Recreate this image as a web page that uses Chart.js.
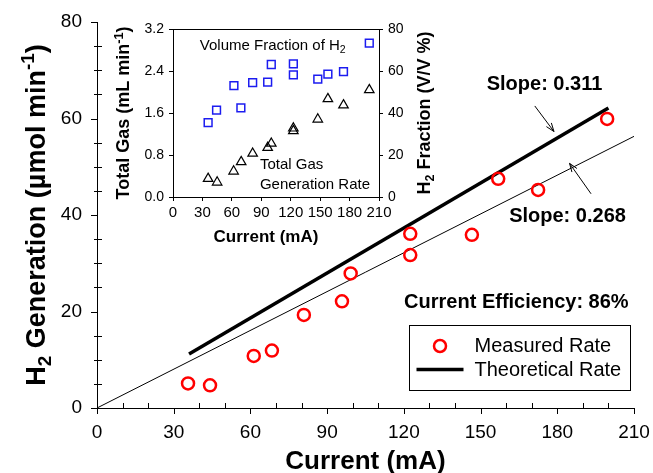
<!DOCTYPE html>
<html>
<head>
<meta charset="utf-8">
<script src="https://cdn.jsdelivr.net/npm/chart.js@4.4.0/dist/chart.umd.min.js"></script>
<style>
body { margin: 0; background: #fff; }
#wrap { position: relative; width: 653px; height: 473px; }
#main { position: absolute; left: 0; top: 0; }
#inset { position: absolute; left: 100px; top: 10px; }
</style>
</head>
<body>
<div id="wrap">
  <canvas id="main" width="653" height="473"></canvas>
  <canvas id="inset" width="340" height="245"></canvas>
</div>
<script>
var FAMILY = "'Liberation Sans', Arial, sans-serif";

// main plot: H2 generation vs current
var measuredCurrent = [35.6, 44.2, 61.3, 68.4, 80.9, 95.8, 99.2, 122.5, 122.5, 146.6, 156.9, 172.5, 199.5];
var measuredRate    = [5.1, 4.7, 10.8, 11.9, 19.3, 22.1, 27.9, 31.7, 36.1, 35.9, 47.5, 45.2, 59.9];
var theoryCurrent = [36, 200];
var theoryRate    = [11.2, 62.2];
var fitCurrent = [0, 210];
var fitRate    = [0, 56.3];
var mainXTicks = [0, 30, 60, 90, 120, 150, 180, 210];
var mainYTicks = [0, 20, 40, 60, 80];

// inset: H2 volume fraction and total gas rate
var fracCurrent = [35.8, 44.4, 62.1, 69.2, 81.2, 96.5, 100.2, 122.7, 122.7, 147.6, 157.9, 173.8, 200.1];
var h2Fraction  = [35.4, 41.4, 53.0, 42.4, 54.5, 54.7, 63.1, 63.4, 58.2, 56.1, 58.5, 59.7, 73.3];
var gasCurrent  = [35.8, 45.0, 61.8, 69.5, 81.2, 96.5, 100.2, 122.7, 122.7, 147.6, 157.9, 173.8, 200.1];
var totalGas    = [0.35, 0.28, 0.49, 0.67, 0.83, 0.94, 1.02, 1.31, 1.26, 1.48, 1.87, 1.75, 2.04];
var insetXTicks = [0, 30, 60, 90, 120, 150, 180, 210];
var insetYTicks = [0, 0.8, 1.6, 2.4, 3.2];
var insetY2Ticks = [0, 20, 40, 60, 80];

function xy(xs, ys) {
  return xs.map(function (x, i) { return { x: x, y: ys[i] }; });
}
function setTicks(list) {
  return function (scale) { scale.ticks = list.map(function (v) { return { value: v }; }); };
}
// fix a scale's thickness and drop the label overflow padding, so layout padding rules
function fitTo(size) {
  return function (s) {
    if (s.isHorizontal()) s.height = size; else s.width = size;
    s.paddingLeft = s.paddingRight = s.paddingTop = s.paddingBottom = 0;
  };
}

// text with sub/superscripts, centred (or left aligned) on x,y
function richText(ctx, parts, x, y, size, weight, rotate, align) {
  ctx.save();
  ctx.translate(x, y);
  if (rotate) ctx.rotate(-Math.PI / 2);
  var total = 0;
  parts.forEach(function (p) {
    ctx.font = weight + ' ' + (p.s ? size * 0.7 : size) + 'px ' + FAMILY;
    p.w = ctx.measureText(p.t).width;
    total += p.w;
  });
  var cx = align === 'left' ? 0 : -total / 2;
  ctx.textAlign = 'left';
  ctx.textBaseline = 'alphabetic';
  ctx.fillStyle = '#000';
  parts.forEach(function (p) {
    ctx.font = weight + ' ' + (p.s ? size * 0.7 : size) + 'px ' + FAMILY;
    var dy = p.s === 'sub' ? size * 0.22 : (p.s === 'sup' ? -size * 0.38 : 0);
    ctx.fillText(p.t, cx, size * 0.36 + dy);
    cx += p.w;
  });
  ctx.restore();
}

function arrow(ctx, x1, y1, x2, y2) {
  var ang = Math.atan2(y2 - y1, x2 - x1), L = 9;
  ctx.beginPath();
  ctx.moveTo(x1, y1); ctx.lineTo(x2, y2);
  ctx.moveTo(x2 - L * Math.cos(ang - 0.35), y2 - L * Math.sin(ang - 0.35));
  ctx.lineTo(x2, y2);
  ctx.lineTo(x2 - L * Math.cos(ang + 0.35), y2 - L * Math.sin(ang + 0.35));
  ctx.stroke();
}

var mainDecor = {
  id: 'mainDecor',
  afterDraw: function (chart) {
    var ctx = chart.ctx, xs = chart.scales.x, ys = chart.scales.y, a = chart.chartArea;
    var X = function (v) { return xs.getPixelForValue(v); };
    var Y = function (v) { return ys.getPixelForValue(v); };
    ctx.save();
    ctx.strokeStyle = '#000';
    ctx.lineWidth = 1;
    // tick marks: majors outward, minors inward
    ctx.beginPath();
    for (var v = 0; v <= 210; v += 10) {
      var px = Math.round(X(v)) + 0.5;
      if (v % 30 === 0) { ctx.moveTo(px, a.bottom); ctx.lineTo(px, a.bottom + 6); }
      else { ctx.moveTo(px, a.bottom); ctx.lineTo(px, a.bottom - 5); }
    }
    for (var w = 0; w <= 80; w += 5) {
      var py = Math.round(Y(w)) + 0.5;
      if (w % 20 === 0) { ctx.moveTo(a.left, py); ctx.lineTo(a.left - 6, py); }
      else { ctx.moveTo(a.left - 3, py); ctx.lineTo(a.left + 5, py); }
    }
    ctx.stroke();

    // axis titles
    richText(ctx, [{ t: 'Current (mA)' }], (a.left + a.right) / 2, 460, 26, 'bold', false);
    richText(ctx, [{ t: 'H' }, { t: '2', s: 'sub' }, { t: ' Generation (\u00b5mol min' }, { t: '-1', s: 'sup' }, { t: ')' }],
      35, (a.top + a.bottom) / 2, 27, 'bold', true);

    // annotations
    richText(ctx, [{ t: 'Slope: 0.311' }], X(175.0), Y(67.4), 20, 'bold', false);
    richText(ctx, [{ t: 'Slope: 0.268' }], X(184.0), Y(40.1), 20, 'bold', false);
    richText(ctx, [{ t: 'Current Efficiency: 86%' }], X(164.0), Y(22.3), 20, 'bold', false);
    arrow(ctx, X(171.2), Y(62.6), X(178.7), Y(57.3));
    arrow(ctx, X(193.2), Y(44.4), X(184.8), Y(50.7));

    // legend box
    var bx = Math.round(X(122.2)) + 0.5, by = Math.round(Y(17.3)) + 0.5;
    var bw = Math.round(X(208.7) - X(122.2)), bh = Math.round(Y(3.9) - Y(17.3));
    ctx.strokeRect(bx, by, bw, bh);
    var ds0 = chart.data.datasets[0], ds1 = chart.data.datasets[1];
    ctx.beginPath();
    ctx.lineWidth = ds0.borderWidth;
    ctx.strokeStyle = ds0.borderColor;
    ctx.arc(bx + 30.5, by + 20.5, ds0.pointRadius, 0, Math.PI * 2);
    ctx.stroke();
    ctx.beginPath();
    ctx.lineWidth = ds1.borderWidth;
    ctx.strokeStyle = ds1.borderColor;
    ctx.moveTo(bx + 7, by + 44); ctx.lineTo(bx + 54, by + 44);
    ctx.stroke();
    ctx.fillStyle = '#000';
    ctx.font = '20px ' + FAMILY;
    ctx.textAlign = 'left';
    ctx.textBaseline = 'middle';
    ctx.fillText(ds0.label, bx + 65, by + 21);
    ctx.fillText(ds1.label, bx + 65, by + 45);
    ctx.restore();
  }
};

new Chart(document.getElementById('main'), {
  type: 'scatter',
  data: {
    datasets: [
      { label: 'Measured Rate', data: xy(measuredCurrent, measuredRate), pointStyle: 'circle',
        pointRadius: 6, pointHoverRadius: 6, borderColor: '#ff0000', borderWidth: 2.5,
        backgroundColor: 'rgba(0,0,0,0)' },
      { label: 'Theoretical Rate', type: 'line', data: xy(theoryCurrent, theoryRate), showLine: true,
        borderColor: '#000', borderWidth: 3.5, pointRadius: 0, fill: false },
      { label: 'Fit', type: 'line', data: xy(fitCurrent, fitRate), showLine: true,
        borderColor: '#000', borderWidth: 1, pointRadius: 0, fill: false }
    ]
  },
  options: {
    responsive: false,
    animation: false,
    layout: { padding: { top: 22, right: 19 } },
    plugins: { legend: { display: false }, tooltip: { enabled: false } },
    scales: {
      x: {
        type: 'linear', min: 0, max: 210,
        afterBuildTicks: setTicks(mainXTicks),
        afterFit: fitTo(65),
        grid: { drawOnChartArea: false, drawTicks: false },
        border: { color: '#000', width: 1 },
        ticks: { color: '#000', font: { size: 19, family: FAMILY }, padding: 13, maxRotation: 0, autoSkip: false }
      },
      y: {
        type: 'linear', min: 0, max: 80,
        afterBuildTicks: setTicks(mainYTicks),
        afterFit: fitTo(97),
        grid: { drawOnChartArea: false, drawTicks: false },
        border: { color: '#000', width: 1 },
        ticks: { color: '#000', font: { size: 19, family: FAMILY }, padding: 15, autoSkip: false }
      }
    }
  },
  plugins: [mainDecor]
});

var insetDecor = {
  id: 'insetDecor',
  afterDraw: function (chart) {
    var ctx = chart.ctx, a = chart.chartArea, xs = chart.scales.x, y2 = chart.scales.y2;
    ctx.save();
    ctx.strokeStyle = '#000';
    ctx.lineWidth = 1;
    ctx.beginPath();
    ctx.moveTo(a.left, Math.round(a.top) + 0.5);
    ctx.lineTo(a.right, Math.round(a.top) + 0.5);
    ctx.stroke();
    richText(ctx, [{ t: 'Current (mA)' }], (a.left + a.right) / 2 - 10, 225.5, 17, 'bold', false);
    richText(ctx, [{ t: 'Total Gas (mL min' }, { t: '-1', s: 'sup' }, { t: ')' }], 23, (a.top + a.bottom) / 2, 18, 'bold', true);
    richText(ctx, [{ t: 'H' }, { t: '2', s: 'sub' }, { t: ' Fraction (V/V %)' }], 324, (a.top + a.bottom) / 2, 18, 'bold', true);
    richText(ctx, [{ t: 'Volume Fraction of H' }, { t: '2', s: 'sub' }], xs.getPixelForValue(27.3), y2.getPixelForValue(72.5), 15, 'normal', false, 'left');
    richText(ctx, [{ t: 'Total Gas' }], xs.getPixelForValue(88.6), y2.getPixelForValue(16), 15, 'normal', false, 'left');
    richText(ctx, [{ t: 'Generation Rate' }], xs.getPixelForValue(88.6), y2.getPixelForValue(6.4), 15, 'normal', false, 'left');
    ctx.restore();
  }
};

var insetTickFont = { size: 14, family: FAMILY };
new Chart(document.getElementById('inset'), {
  type: 'scatter',
  data: {
    datasets: [
      { label: 'Volume Fraction of H2', data: xy(fracCurrent, h2Fraction), yAxisID: 'y2',
        pointStyle: 'rect', pointRadius: 5.5, pointHoverRadius: 5.5, borderColor: '#1c1cf0', borderWidth: 1.5,
        backgroundColor: 'rgba(0,0,0,0)' },
      { label: 'Total Gas Generation Rate', data: xy(gasCurrent, totalGas), yAxisID: 'y',
        pointStyle: 'triangle', pointRadius: 5.5, pointHoverRadius: 5.5, borderColor: '#000', borderWidth: 1.2,
        backgroundColor: 'rgba(0,0,0,0)' }
    ]
  },
  options: {
    responsive: false,
    animation: false,
    layout: { padding: { top: 19 } },
    plugins: { legend: { display: false }, tooltip: { enabled: false } },
    scales: {
      x: {
        type: 'linear', min: 0, max: 210,
        afterBuildTicks: setTicks(insetXTicks),
        afterFit: fitTo(58),
        grid: { drawOnChartArea: false, tickLength: 4, color: '#000' },
        border: { color: '#000' },
        ticks: { color: '#000', font: { size: 15, family: FAMILY }, padding: 3, maxRotation: 0, autoSkip: false }
      },
      y: {
        type: 'linear', position: 'left', min: 0, max: 3.2,
        afterBuildTicks: setTicks(insetYTicks),
        afterFit: fitTo(73),
        grid: { drawOnChartArea: false, tickLength: 4, color: '#000' },
        border: { color: '#000' },
        ticks: { color: '#000', font: insetTickFont, padding: 5, autoSkip: false,
          callback: function (v) { return v.toFixed(1); } }
      },
      y2: {
        type: 'linear', position: 'right', min: 0, max: 80,
        afterBuildTicks: setTicks(insetY2Ticks),
        afterFit: fitTo(61),
        grid: { drawOnChartArea: false, tickLength: 4, color: '#000' },
        border: { color: '#000' },
        ticks: { color: '#000', font: insetTickFont, padding: 5, autoSkip: false }
      }
    }
  },
  plugins: [insetDecor]
});
</script>
</body>
</html>
